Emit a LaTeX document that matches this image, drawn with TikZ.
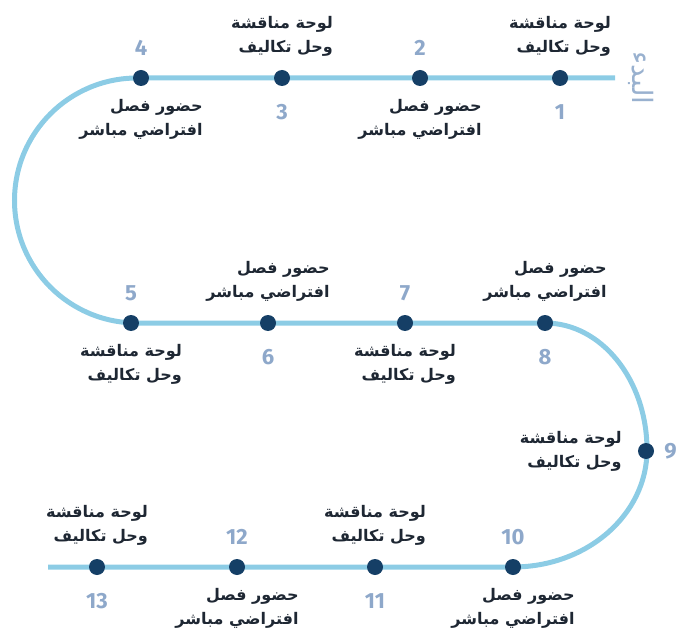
\documentclass[tikz,border=0pt]{standalone}
\usepackage{fontspec}
\usetikzlibrary{positioning,backgrounds}
\newfontfamily\arabicfont[Script=Arabic]{DejaVu Sans}
\newfontfamily\numfont{Fira Sans}
\TeXXeTstate=1

\definecolor{trackblue}{HTML}{8CCCE5}
\definecolor{dotblue}{HTML}{153F66}
\definecolor{numblue}{HTML}{8EA8CA}
\definecolor{textdark}{HTML}{1E2733}

\newcommand{\panel}{\beginR لوحة مناقشة\endR\\\beginR وحل تكاليف\endR}
\newcommand{\live}{\beginR حضور فصل\endR\\\beginR افتراضي مباشر\endR}

\tikzset{
  stop/.style={circle,fill=dotblue,minimum size=16pt,inner sep=0pt},
  num/.style={text=numblue,font=\numfont\bfseries\fontsize{22}{22}\selectfont,inner sep=0pt},
  lbl/.style={text=textdark,align=right,font=\arabicfont\bfseries\fontsize{16}{24}\selectfont,inner sep=0pt},
  track/.style={trackblue,line width=5pt}
}

\begin{document}
\begin{tikzpicture}[x=1pt,y=-1pt]
    \useasboundingbox (0,0) rectangle (677,628);
    % stops
    \node[stop] (s1) at (560,78) {};
    \node[stop] (s2) at (420,78) {};
    \node[stop] (s3) at (282,78) {};
    \node[stop] (s4) at (141,78) {};
    \node[stop] (s5) at (131,323) {};
    \node[stop] (s6) at (268,323) {};
    \node[stop] (s7) at (405,323) {};
    \node[stop] (s8) at (545,323) {};
    \node[stop] (s9) at (646,451) {};
    \node[stop] (s10) at (513,567) {};
    \node[stop] (s11) at (375,567) {};
    \node[stop] (s12) at (237,567) {};
    \node[stop] (s13) at (97,567) {};
    \coordinate (e1) at (615,78);
    \coordinate (e2) at (48,567);
    % track
    \begin{scope}[on background layer]
    \draw[track] (e1) -- (s1.center) -- (s2.center) -- (s3.center) -- (s4.center) -- (137,78)
        arc[start angle=270,end angle=90,radius=122.5] -- (s5.center) -- (s6.center) -- (s7.center) -- (s8.center)
        arc[start angle=-90,end angle=0,x radius=102,y radius=127]
        arc[start angle=0,end angle=90,x radius=134,y radius=117] -- (s10.center) -- (s11.center) -- (s12.center) -- (s13.center) -- (e2);
    \end{scope}
    \node[rotate=-90,text=numblue!90,font=\arabicfont\fontsize{28}{28}\selectfont] (start) at (641,78) {\beginR البدء\endR};
    % top row
    \node[lbl,above=13pt of s1] (t1) {\panel};
    \node[num,below=18pt of s1] (n1) {1};
    \node[num,above=14pt of s2] (n2) {2};
    \node[lbl,below=13pt of s2] (t2) {\live};
    \node[lbl,above=13pt of s3] (t3) {\panel};
    \node[num,below=18pt of s3] (n3) {3};
    \node[num,above=14pt of s4] (n4) {4};
    \node[lbl,below=13pt of s4] (t4) {\live};
    % middle row
    \node[num,above=14pt of s5] (n5) {5};
    \node[lbl,below=13pt of s5] (t5) {\panel};
    \node[lbl,above=13pt of s6] (t6) {\live};
    \node[num,below=18pt of s6] (n6) {6};
    \node[num,above=14pt of s7] (n7) {7};
    \node[lbl,below=13pt of s7] (t7) {\panel};
    \node[lbl,above=13pt of s8] (t8) {\live};
    \node[num,below=18pt of s8] (n8) {8};
    \node[num,right=10pt of s9] (n9) {9};
    \node[lbl,left=16pt of s9] (t9) {\panel};
    % bottom row
    \node[num,above=14pt of s10] (n10) {10};
    \node[lbl,below=13pt of s10] (t10) {\live};
    \node[lbl,above=13pt of s11] (t11) {\panel};
    \node[num,below=18pt of s11] (n11) {11};
    \node[num,above=14pt of s12] (n12) {12};
    \node[lbl,below=13pt of s12] (t12) {\live};
    \node[lbl,above=13pt of s13] (t13) {\panel};
    \node[num,below=18pt of s13] (n13) {13};
\end{tikzpicture}
\end{document}
